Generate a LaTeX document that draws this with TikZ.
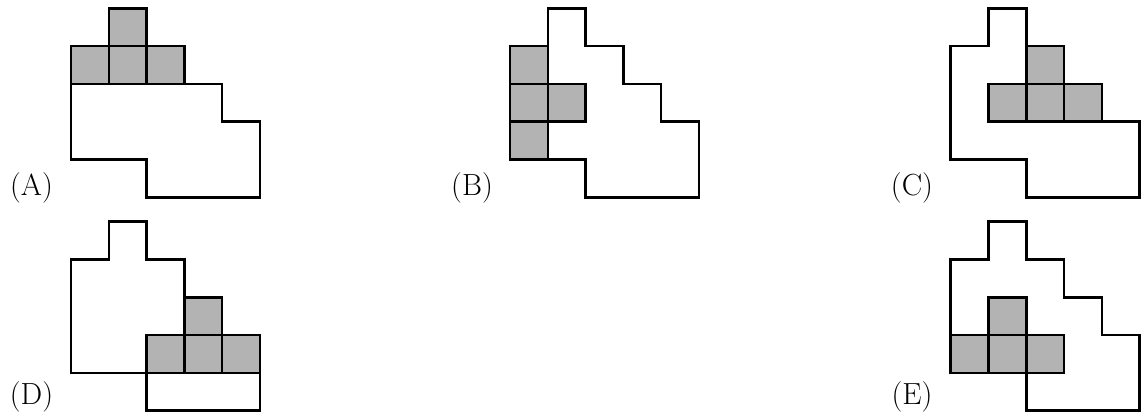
\documentclass[tikz,border=0pt]{standalone}
\definecolor{cellgray}{RGB}{179,179,179}
\tikzset{
  outl/.style={line width=1.9pt, line join=miter},
  cellst/.style={line width=1.9pt, fill=cellgray, line join=miter},
  lbl/.style={anchor=base, inner sep=0pt, font=\fontsize{23}{28}\selectfont},
  stair/.pic={
    \draw[outl] (0,-1) -- (1,-1) -- (1,0) -- (2,0) -- (2,-1) -- (3,-1) -- (3,-2) -- (4,-2) -- (4,-3) -- (5,-3) -- (5,-5) -- (2,-5) -- (2,-4) -- (0,-4) -- cycle;
  }
}
\newcommand\cellsat[1]{\foreach \c/\r in {#1} \draw[cellst] (\c,-\r) rectangle ++(1,-1);}
\begin{document}
\begin{tikzpicture}
\useasboundingbox (0,0) rectangle (30.238,11.085);
% A
\begin{scope}[shift={(1.878,10.865)}]
  \pic {stair};
  \cellsat{1/0,0/1,1/1,2/1}
\end{scope}
% B
\begin{scope}[shift={(13.492,10.865)}]
  \pic {stair};
  \cellsat{0/1,0/2,1/2,0/3}
\end{scope}
% C
\begin{scope}[shift={(25.151,10.865)}]
  \pic {stair};
  \cellsat{2/1,1/2,2/2,3/2}
\end{scope}
% D
\begin{scope}[shift={(1.878,5.220)}]
  \pic {stair};
  \cellsat{3/2,2/3,3/3,4/3}
\end{scope}
% E
\begin{scope}[shift={(25.151,5.220)}]
  \pic {stair};
  \cellsat{1/2,0/3,1/3,2/3}
\end{scope}
\node[lbl] (la) at (0.833,5.913) {(A)};
\node[lbl] (lb) at (12.487,5.913) {(B)};
\node[lbl] (lc) at (24.127,5.913) {(C)};
\node[lbl] (ld) at (0.833,0.397) {(D)};
\node[lbl] (le) at (24.127,0.397) {(E)};
\end{tikzpicture}
\end{document}
